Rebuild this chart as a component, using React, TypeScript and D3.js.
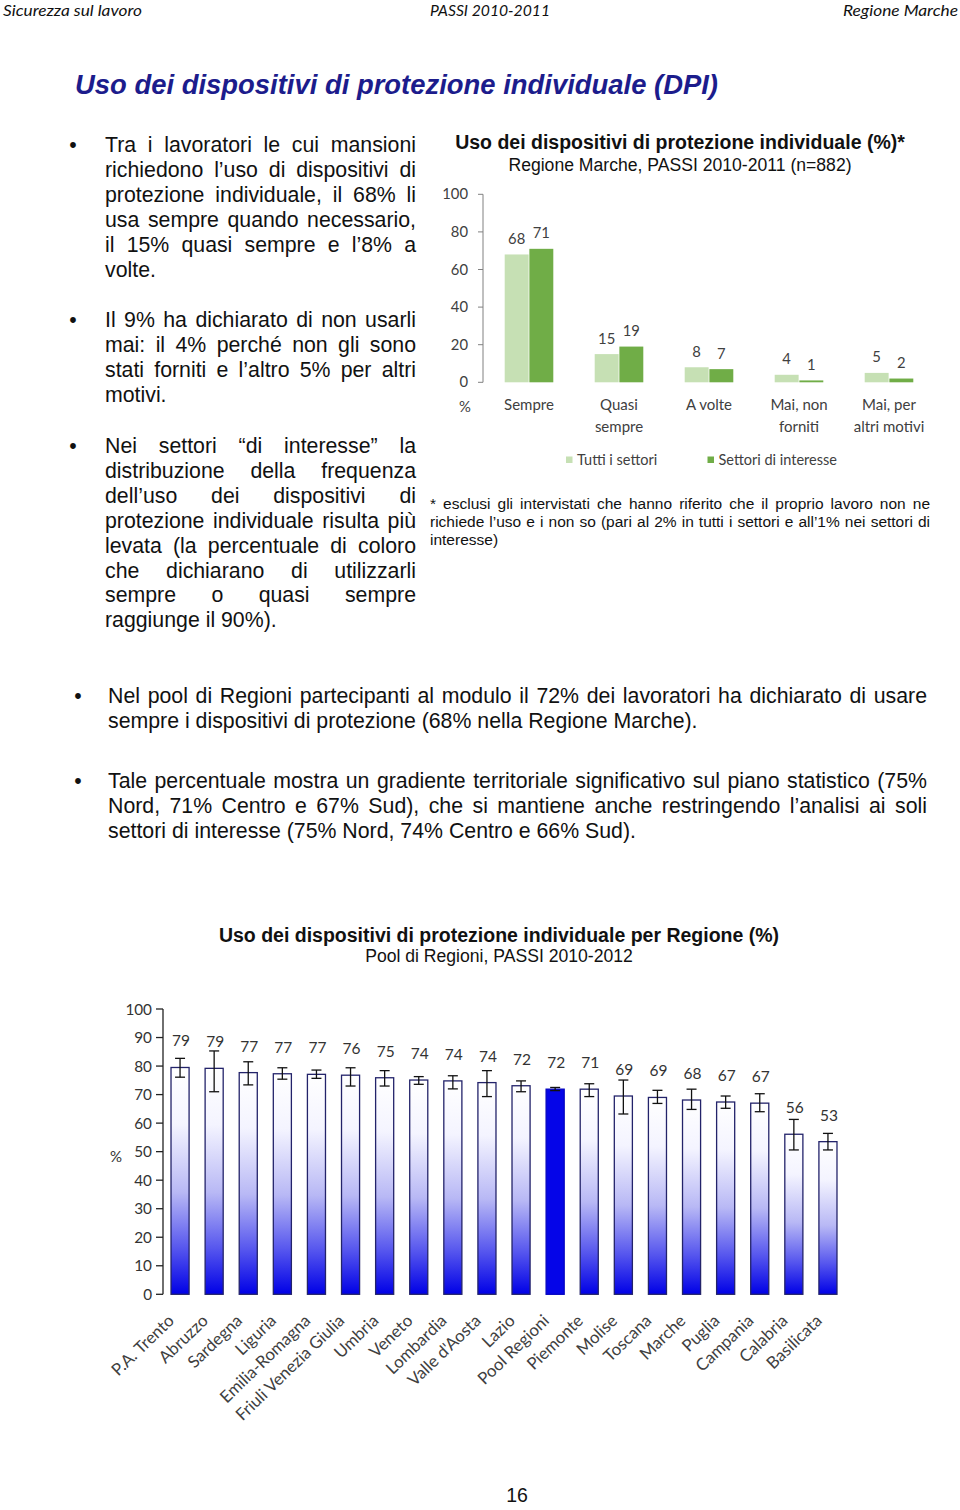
import React, { useLayoutEffect, useRef } from 'react';
import * as d3 from 'd3';

const W = 960;
const H = 1510;
const BODY = "'Liberation Sans', Arial, Helvetica, sans-serif";
const CHART = "Lato, 'Open Sans', sans-serif";

// ---------- Chart 1: use of PPE, Regione Marche ----------
const usageCategories = [["Sempre"], ["Quasi", "sempre"], ["A volte"], ["Mai, non", "forniti"], ["Mai, per", "altri motivi"]];
const usageSeries = ["Tutti i settori", "Settori di interesse"];
const usageAll = [68, 15, 8, 4, 5];
const usageInterest = [71, 19, 7, 1, 2];
const usageTicks = [0, 20, 40, 60, 80, 100];
const usageColors = ["#c6e0b4", "#70ad47"];

// ---------- Chart 2: use of PPE by region ----------
const regions = ["P.A. Trento", "Abruzzo", "Sardegna", "Liguria", "Emilia-Romagna", "Friuli Venezia Giulia", "Umbria", "Veneto", "Lombardia", "Valle d'Aosta", "Lazio", "Pool Regioni", "Piemonte", "Molise", "Toscana", "Marche", "Puglia", "Campania", "Calabria", "Basilicata"];
const regionValues = [79.5, 79.2, 77.7, 77.3, 77.1, 76.8, 75.9, 75.1, 74.8, 74.2, 73.1, 71.9, 71.9, 69.5, 69.0, 68.1, 67.4, 67.0, 56.1, 53.5];
const regionLabels = [79, 79, 77, 77, 77, 76, 75, 74, 74, 74, 72, 72, 71, 69, 69, 68, 67, 67, 56, 53];
const regionLow = [76.1, 71.0, 73.4, 75.4, 75.7, 73.0, 73.0, 73.6, 72.0, 69.3, 71.0, 71.4, 69.3, 63.2, 66.9, 64.8, 65.2, 64.0, 50.6, 50.6];
const regionHigh = [82.7, 85.3, 81.5, 79.4, 78.6, 79.4, 78.4, 76.3, 76.6, 78.4, 74.8, 72.5, 73.8, 75.1, 71.5, 71.9, 69.5, 70.3, 61.3, 56.4];
const regionTicks = [0, 10, 20, 30, 40, 50, 60, 70, 80, 90, 100];
const highlightRegion = "Pool Regioni";

// ---------- Page text ----------
const leftParagraphs = [
  ["Tra i lavoratori le cui mansioni", "richiedono l’uso di dispositivi di", "protezione individuale, il 68% li", "usa sempre quando necessario,", "il 15% quasi sempre e l’8% a", "volte."],
  ["Il 9% ha dichiarato di non usarli", "mai: il 4% perché non gli sono", "stati forniti e l’altro 5% per altri", "motivi."],
  ["Nei settori “di interesse” la", "distribuzione della frequenza", "dell’uso dei dispositivi di", "protezione individuale risulta più", "levata (la percentuale di coloro", "che dichiarano di utilizzarli", "sempre o quasi sempre", "raggiunge il 90%)."],
];
const leftParagraphY = [152, 327, 453];
const footnoteLines = ["* esclusi gli intervistati che hanno riferito che il proprio lavoro non ne", "richiede l’uso e i non so (pari al 2% in tutti i settori e all’1% nei settori di", "interesse)"];
const lowerParagraphs = [
  ["Nel pool di Regioni partecipanti al modulo il 72% dei lavoratori ha dichiarato di usare", "sempre i dispositivi di protezione (68% nella Regione Marche)."],
  ["Tale percentuale mostra un gradiente territoriale significativo sul piano statistico (75%", "Nord, 71% Centro e 67% Sud), che si mantiene anche restringendo l’analisi ai soli", "settori di interesse (75% Nord, 74% Centro e 66% Sud)."],
];
const lowerParagraphY = [703, 788];

function Paragraph({ lines, x, y, width, size, lh }: any) {
  return (
    <g>
      {lines.map((t: string, i: number) => (
        <text key={i} x={x} y={y + i * lh} fontFamily={BODY} fontSize={size} fill="#111"
          data-jw={i < lines.length - 1 ? width : undefined}>{t}</text>
      ))}
    </g>
  );
}

export default function App() {
  const ref = useRef<SVGSVGElement>(null);

  useLayoutEffect(() => {
    const run = () => {
      if (!ref.current) return;
      d3.select(ref.current).selectAll<SVGTextElement, unknown>('text[data-jw]').each(function () {
        const el = this as SVGTextElement;
        el.style.wordSpacing = '0px';
        const target = +(el.getAttribute('data-jw') || 0);
        const nat = el.getComputedTextLength();
        const n = ((el.textContent || '').match(/ /g) || []).length;
        if (n > 0) el.style.wordSpacing = ((target - nat) / n) + 'px';
      });
    };
    run();
    if ((document as any).fonts && (document as any).fonts.ready) (document as any).fonts.ready.then(run);
  }, []);

  // Chart 1 scales
  const c1x = d3.scaleBand<number>().domain(d3.range(usageCategories.length)).range([484, 934]).paddingInner(0.46).paddingOuter(0.23);
  const c1sub = d3.scaleBand<number>().domain([0, 1]).range([0, c1x.bandwidth()]).paddingInner(0.03);
  const c1y = d3.scaleLinear().domain([0, 100]).range([382.3, 194.3]);
  const usageData = [usageAll, usageInterest];

  // Chart 2 scales
  const c2x = d3.scaleBand<string>().domain(regions).range([163, 845]).paddingInner(0.47).paddingOuter(0.235);
  const c2y = d3.scaleLinear().domain([0, 100]).range([1294.3, 1009]);
  const bw = c2x.bandwidth();

  return (
    <svg ref={ref} width={W} height={H} style={{ position: 'absolute', left: 0, top: 0 }}>
      <defs>
        <linearGradient id="barGrad" x1="0" y1="0" x2="0" y2="1">
          <stop offset="0" stopColor="#ffffff" />
          <stop offset="0.25" stopColor="#f4f4ff" />
          <stop offset="0.55" stopColor="#b8b8f5" />
          <stop offset="0.8" stopColor="#5555ee" />
          <stop offset="1" stopColor="#0000e6" />
        </linearGradient>
      </defs>
      <rect x={0} y={0} width={W} height={H} fill="#fff" />

      {/* Header */}
      <text x={3} y={16} fontFamily={CHART} fontStyle="italic" fontSize={16} fill="#111" textLength={139} lengthAdjust="spacingAndGlyphs">Sicurezza sul lavoro</text>
      <text x={430} y={16} fontFamily={CHART} fontStyle="italic" fontSize={16} fill="#111" textLength={120} lengthAdjust="spacingAndGlyphs">PASSI 2010-2011</text>
      <text x={958} y={16} textAnchor="end" fontFamily={CHART} fontStyle="italic" fontSize={16} fill="#111" textLength={115} lengthAdjust="spacingAndGlyphs">Regione Marche</text>

      {/* Title */}
      <text x={75} y={94} fontFamily={BODY} fontWeight="bold" fontStyle="italic" fontSize={27.4} fill="#1c1c8c" textLength={643} lengthAdjust="spacingAndGlyphs">Uso dei dispositivi di protezione individuale (DPI)</text>

      {/* Left paragraphs */}
      {leftParagraphs.map((p, i) => (
        <g key={i}>
          <text x={73} y={leftParagraphY[i]} textAnchor="middle" fontFamily={BODY} fontSize={21.3} fill="#111">•</text>
          <Paragraph lines={p} x={105} y={leftParagraphY[i]} width={311} size={21.3} lh={24.9} />
        </g>
      ))}

      {/* Chart 1 */}
      <text x={680} y={149} textAnchor="middle" fontFamily={BODY} fontWeight="bold" fontSize={19.5} fill="#111">Uso dei dispositivi di protezione individuale (%)*</text>
      <text x={680} y={171} textAnchor="middle" fontFamily={BODY} fontSize={17.6} fill="#111">Regione Marche, PASSI 2010-2011 (n=882)</text>
      <line x1={483} x2={483} y1={c1y(0)} y2={c1y(100)} stroke="#808080" strokeWidth={1} />
      {usageTicks.map(t => (
        <g key={t}>
          <line x1={478} x2={483} y1={c1y(t)} y2={c1y(t)} stroke="#808080" strokeWidth={1} />
          <text x={468} y={c1y(t) + 5} textAnchor="end" fontFamily={CHART} fontSize={14.8} fill="#404040">{t}</text>
        </g>
      ))}
      <text x={465} y={412} textAnchor="middle" fontFamily={CHART} fontSize={14.8} fill="#404040">%</text>
      {usageCategories.map((cat, i) => (
        <g key={i}>
          {usageData.map((series, s) => {
            const x = (c1x(i) || 0) + (c1sub(s) || 0);
            return (
              <g key={s}>
                <rect x={x} y={c1y(series[i])} width={c1sub.bandwidth()} height={c1y(0) - c1y(series[i])} fill={usageColors[s]} />
                <text x={x + c1sub.bandwidth() / 2} y={c1y(series[i]) - 10.5} textAnchor="middle" fontFamily={CHART} fontSize={14.8} fill="#404040">{series[i]}</text>
              </g>
            );
          })}
          {cat.map((ln, j) => (
            <text key={j} x={(c1x(i) || 0) + c1x.bandwidth() / 2} y={410 + j * 21.5} textAnchor="middle" fontFamily={CHART} fontSize={15} fill="#404040">{ln}</text>
          ))}
        </g>
      ))}
      {usageSeries.map((s, i) => {
        const lx = i === 0 ? 566 : 707.5;
        return (
          <g key={s}>
            <rect x={lx} y={456.5} width={6.5} height={6.5} fill={usageColors[i]} />
            <text x={lx + 11} y={465} fontFamily={CHART} fontSize={14.5} fill="#404040">{s}</text>
          </g>
        );
      })}

      {/* Footnote */}
      <Paragraph lines={footnoteLines} x={430} y={508.5} width={500} size={15.5} lh={18} />

      {/* Lower paragraphs */}
      {lowerParagraphs.map((p, i) => (
        <g key={i}>
          <text x={78} y={lowerParagraphY[i]} textAnchor="middle" fontFamily={BODY} fontSize={21.3} fill="#111">•</text>
          <Paragraph lines={p} x={108} y={lowerParagraphY[i]} width={819} size={21.3} lh={25} />
        </g>
      ))}

      {/* Chart 2 */}
      <text x={499} y={942} textAnchor="middle" fontFamily={BODY} fontWeight="bold" fontSize={19.5} fill="#111">Uso dei dispositivi di protezione individuale per Regione (%)</text>
      <text x={499} y={962} textAnchor="middle" fontFamily={BODY} fontSize={17.6} fill="#111">Pool di Regioni, PASSI 2010-2012</text>
      <line x1={163} x2={163} y1={c2y(0)} y2={c2y(100)} stroke="#222" strokeWidth={1.3} />
      {regionTicks.map(t => (
        <g key={t}>
          <line x1={156} x2={163} y1={c2y(t)} y2={c2y(t)} stroke="#222" strokeWidth={1.3} />
          <text x={152} y={c2y(t) + 5.5} textAnchor="end" fontFamily={CHART} fontSize={15.3} fill="#333">{t}</text>
        </g>
      ))}
      <text x={116} y={1162} textAnchor="middle" fontFamily={CHART} fontSize={15} fill="#333">%</text>
      {regions.map((r, i) => {
        const x = c2x(r) || 0;
        const cx = x + bw / 2;
        const v = regionValues[i];
        const hi = highlightRegion === r;
        return (
          <g key={r}>
            <rect x={x} y={c2y(v)} width={bw} height={c2y(0) - c2y(v)} fill={hi ? '#0505e8' : 'url(#barGrad)'} stroke={hi ? '#0505c0' : '#23236a'} strokeWidth={1.3} />
            <line x1={cx} x2={cx} y1={c2y(regionLow[i])} y2={c2y(regionHigh[i])} stroke="#111" strokeWidth={1.3} />
            <line x1={cx - 5} x2={cx + 5} y1={c2y(regionLow[i])} y2={c2y(regionLow[i])} stroke="#111" strokeWidth={1.3} />
            <line x1={cx - 5} x2={cx + 5} y1={c2y(regionHigh[i])} y2={c2y(regionHigh[i])} stroke="#111" strokeWidth={1.3} />
            <text x={cx + 1} y={c2y(v) - 21} textAnchor="middle" fontFamily={CHART} fontSize={15.5} fill="#333">{regionLabels[i]}</text>
            <text transform={`translate(${cx - 5},1322) rotate(-44)`} textAnchor="end" fontFamily={CHART} fontSize={16.8} fill="#404040">{r}</text>
          </g>
        );
      })}

      {/* Page number */}
      <text x={517} y={1502} textAnchor="middle" fontFamily={BODY} fontSize={19.5} fill="#111">16</text>
    </svg>
  );
}
